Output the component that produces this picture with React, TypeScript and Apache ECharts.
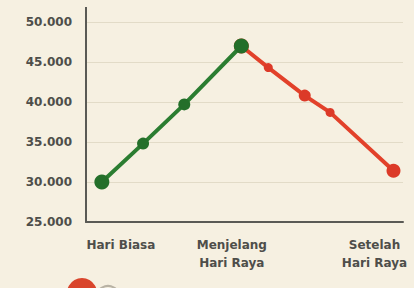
import React, { useEffect, useRef } from "react";
import * as echarts from "echarts";

// Position along the timeline (0-100) and price values
const risePositions = [5, 18, 31, 49];
const riseValues = [30000, 34800, 39700, 47000];
const fallPositions = [49, 57.5, 69, 77, 97];
const fallValues = [47000, 44300, 40800, 38700, 31400];

const categoryPositions = [11, 46, 91];
const categoryLabels = ["Hari Biasa", "Menjelang\nHari Raya", "Setelah\nHari Raya"];

const yTicks = [25000, 30000, 35000, 40000, 45000, 50000];

const riseSizes = [15, 12, 12, 15];
const fallSizes = [15, 9, 12, 9, 14];

export default function App() {
  const ref = useRef<HTMLDivElement>(null);
  useEffect(() => {
    if (!ref.current) return;
    const chart = echarts.init(ref.current, null, { renderer: "svg" });
    const font = "DejaVu Sans";
    const gridLeft = 86;
    const gridTop = 22;
    chart.setOption({
      animation: false,
      backgroundColor: "#f6f0e1",
      grid: { left: gridLeft, right: 11, top: gridTop, bottom: 66 },
      xAxis: {
        type: "value",
        min: 0,
        max: 100,
        axisLine: { show: true, lineStyle: { color: "#5a5a55", width: 2 } },
        axisTick: { show: false },
        splitLine: { show: false },
        axisLabel: {
          customValues: categoryPositions,
          formatter: (v: number) => {
            const i = categoryPositions.indexOf(v);
            return i >= 0 ? categoryLabels[i] : "";
          },
          color: "#4e4e4a",
          fontFamily: font,
          fontWeight: "bold",
          fontSize: 12,
          lineHeight: 18,
          margin: 14,
        },
      },
      yAxis: {
        type: "value",
        min: yTicks[0],
        max: yTicks[yTicks.length - 1],
        interval: 5000,
        axisLine: { show: true, lineStyle: { color: "#5a5a55", width: 2 } },
        axisTick: { show: false },
        splitLine: { show: true, lineStyle: { color: "#e2dbc7", width: 1 } },
        axisLabel: {
          formatter: (v: number) => v.toLocaleString("de-DE"),
          color: "#4e4e4a",
          fontFamily: font,
          fontWeight: "bold",
          fontSize: 12,
          margin: 14,
        },
      },
      graphic: [
        {
          type: "line",
          shape: { x1: gridLeft, y1: 7, x2: gridLeft, y2: gridTop },
          style: { stroke: "#5a5a55", lineWidth: 2 },
        },
        {
          type: "circle",
          shape: { cx: 82, cy: 293, r: 15 },
          style: { fill: "#d9452c" },
        },
        {
          type: "circle",
          shape: { cx: 108, cy: 298, r: 12 },
          style: { fill: "none", stroke: "#b8b2a4", lineWidth: 2 },
        },
      ],
      series: [
        {
          type: "line",
          data: fallPositions.map((x, i) => [x, fallValues[i]]),
          symbol: "circle",
          symbolSize: (_v: any, p: any) => fallSizes[p.dataIndex],
          lineStyle: { color: "#e2412a", width: 4 },
          itemStyle: { color: "#dc3a28" },
          z: 2,
        },
        {
          type: "line",
          data: risePositions.map((x, i) => [x, riseValues[i]]),
          symbol: "circle",
          symbolSize: (_v: any, p: any) => riseSizes[p.dataIndex],
          lineStyle: { color: "#2b7d31", width: 4 },
          itemStyle: { color: "#246f2a" },
          z: 3,
        },
      ],
    });
    return () => chart.dispose();
  }, []);
  return (
    <div
      ref={ref}
      style={{ position: "fixed", left: 0, top: 0, width: 414, height: 288, background: "#f6f0e1" }}
    />
  );
}
